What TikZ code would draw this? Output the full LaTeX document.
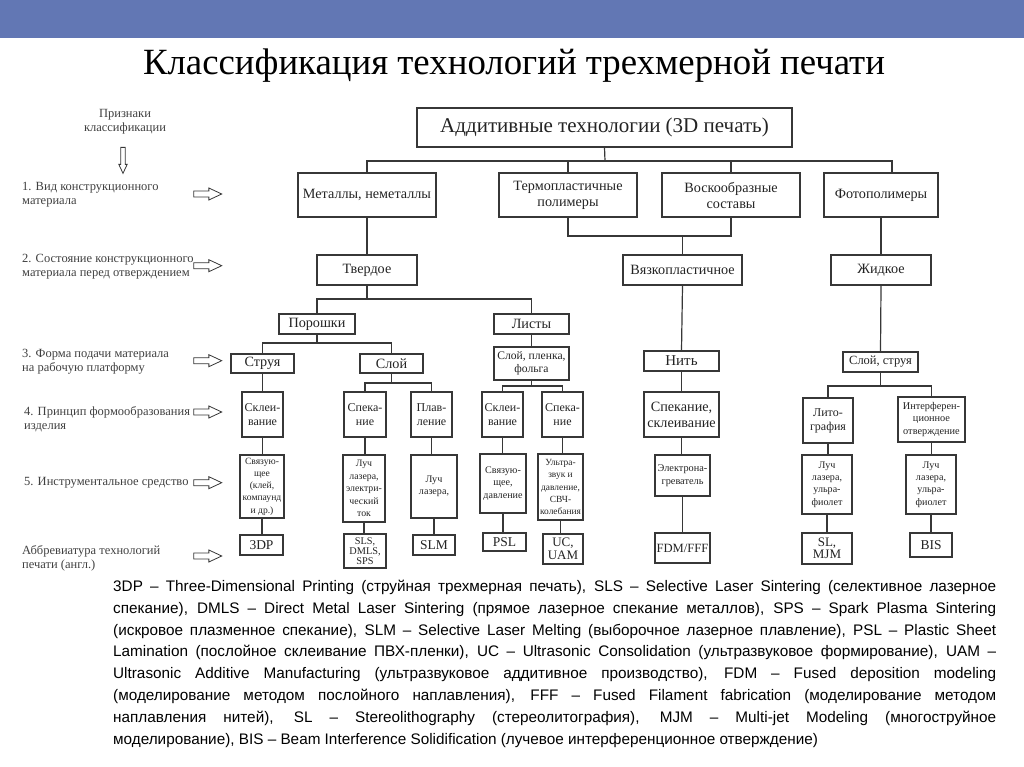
\documentclass[tikz,border=0pt]{standalone}
\usepackage{fontspec}
\usepackage{graphicx}
\setmainfont{Liberation Serif}
\newfontfamily\arialfont{Liberation Sans}
\usetikzlibrary{shapes.arrows}
\definecolor{barblue}{RGB}{98,119,180}
\definecolor{linegray}{RGB}{55,55,55}
\definecolor{textgray}{RGB}{35,35,35}
\newcommand\fsTitle{\fontsize{37}{40}\selectfont}
\newcommand\fsBig{\fontsize{21}{24}\selectfont}
\newcommand\fsMid{\fontsize{14.2}{16}\selectfont}
\newcommand\fsRow{\fontsize{12}{14}\selectfont}
\newcommand\fsSmall{\fontsize{10.1}{12.4}\selectfont}
\newcommand\fsAbbr{\fontsize{13.5}{13.5}\selectfont}
\newcommand\fsSide{\fontsize{12.5}{14}\selectfont}
\newcommand\fsNote{\fontsize{15.3}{21.8}\selectfont}
\begin{document}
\begin{tikzpicture}[x=1pt, y=-1pt, every node/.style={align=center, text=textgray},
  box/.style={draw=linegray, line width=1.2pt, inner sep=0pt, font=\fsMid},
  rowbox/.style={box, font=\fsRow},
  smallbox/.style={box, font=\fsSmall},
  abbrbox/.style={box, font=\fsAbbr},
  hollowarrow/.style={single arrow, draw=linegray, line width=0.8pt, fill=white, minimum height=28pt, inner xsep=0pt, inner ysep=2.6pt, single arrow head extend=3pt, single arrow tip angle=50},
  sidelabel/.style={anchor=west, align=left, inner sep=0pt, font=\fsSide, text=black!75}]
\useasboundingbox (0,0) rectangle (1024,767);
\fill[barblue] (0,0) rectangle (1024,38);
\node[anchor=base, text=black, font=\fsTitle] (title) at (514,75) {\resizebox{742pt}{\height}{Классификация технологий трехмерной печати}};

% criteria column
\node[font=\fsSide, text=black!75] (crit) at (125,122) {Признаки\\классификации};
\node[hollowarrow, minimum height=26pt, inner xsep=1.8pt, inner ysep=0pt, single arrow head extend=2pt, shape border rotate=270] (down) at (123,158) {};
\node[sidelabel] (c1) at (22,195) {1. Вид конструкционного\\материала};
\node[sidelabel] (c2) at (22,266.5) {2. Состояние конструкционного\\материала перед отверждением};
\node[sidelabel] (c3) at (22,361.5) {3. Форма подачи материала\\на рабочую платформу};
\node[sidelabel] (c4) at (24,419) {4. Принцип формообразования\\изделия};
\node[sidelabel] (c5) at (24,483) {5. Инструментальное средство};
\node[sidelabel] (c6) at (22,558.5) {Аббревиатура технологий\\печати (англ.)};
\foreach \i/\y in {1/194,2/265.7,3/360.7,4/412,5/482.7,6/556}
  \node[hollowarrow] (arr\i) at (204.5,\y) {};

% tree
\node[box, font=\fsBig, minimum width=375pt, minimum height=39pt] (top) at (604.5,127.5) {Аддитивные технологии (3D печать)};
\node[box, minimum width=138pt, minimum height=44pt] (met) at (367,195) {Металлы, неметаллы};
\node[box, minimum width=138pt, minimum height=44pt] (therm) at (568,195) {Термопластичные\\полимеры};
\node[box, minimum width=138pt, minimum height=44pt] (wax) at (731,195) {Воскообразные\\составы};
\node[box, minimum width=114pt, minimum height=44pt] (photo) at (881,195) {Фотополимеры};
\node[box, minimum width=100pt, minimum height=30pt] (solid) at (367,270) {Твердое};
\node[box, minimum width=119pt, minimum height=30pt] (visc) at (682.5,270) {Вязкопластичное};
\node[box, minimum width=100pt, minimum height=30pt] (liquid) at (881,270) {Жидкое};
\node[box, minimum width=76pt, minimum height=20pt] (powder) at (317,324) {Порошки};
\node[box, minimum width=75pt, minimum height=20pt] (sheets) at (531.5,324) {Листы};
\node[box, minimum width=63pt, minimum height=19pt] (jet) at (262.5,363.5) {Струя};
\node[box, minimum width=63pt, minimum height=19pt] (layer) at (391.5,363.5) {Слой};
\node[rowbox, font=\fontsize{11.6}{13.5}\selectfont, minimum width=75pt, minimum height=33pt] (foil) at (531.5,363.5) {Слой, пленка,\\фольга};
\node[box, font=\fontsize{15}{16}\selectfont, minimum width=75pt, minimum height=20pt] (thread) at (681.5,361) {Нить};
\node[rowbox, font=\fontsize{12.5}{14}\selectfont, minimum width=75pt, minimum height=20pt] (lj) at (880.5,362) {Слой, струя};
\node[rowbox, minimum width=41pt, minimum height=45pt] (glue1) at (262.5,414.5) {Склеи-\\вание};
\node[rowbox, minimum width=42pt, minimum height=45pt] (sint1) at (365,414.5) {Спека-\\ние};
\node[rowbox, minimum width=41pt, minimum height=45pt] (melt) at (431.5,414.5) {Плав-\\ление};
\node[rowbox, minimum width=41pt, minimum height=45pt] (glue2) at (502.5,414.5) {Склеи-\\вание};
\node[rowbox, minimum width=41pt, minimum height=45pt] (sint2) at (562.5,414.5) {Спека-\\ние};
\node[box, minimum width=75pt, minimum height=45pt] (sg) at (681.5,414.5) {Спекание,\\склеивание};
\node[rowbox, minimum width=50pt, minimum height=45pt] (litho) at (828,420.5) {Лито-\\графия};
\node[smallbox, font=\fontsize{10.3}{12.5}\selectfont, minimum width=67pt, minimum height=45pt] (interf) at (931.5,419.5) {Интерферен-\\ционное\\отверждение};
\node[smallbox, font=\fontsize{9.6}{12.2}\selectfont, minimum width=44pt, minimum height=63pt] (tool1) at (262,486.5) {Связую-\\щее\\(клей,\\компаунд\\и др.)};
\node[smallbox, font=\fontsize{9.8}{12.6}\selectfont, minimum width=42pt, minimum height=67pt] (tool2) at (364,488.5) {Луч\\лазера,\\электри-\\ческий\\ток};
\node[smallbox, minimum width=46pt, minimum height=63pt] (tool3) at (434,486.5) {Луч\\лазера,};
\node[smallbox, minimum width=46pt, minimum height=59pt] (tool4) at (503,483.5) {Связую-\\щее,\\давление};
\node[smallbox, font=\fontsize{9.4}{12.4}\selectfont, minimum width=45pt, minimum height=66pt] (tool5) at (560.5,487) {Ультра-\\звук и\\давление,\\СВЧ-\\колебания};
\node[smallbox, font=\fontsize{10.3}{13.5}\selectfont, minimum width=55pt, minimum height=41pt] (tool6) at (682.5,475.5) {Электрона-\\греватель};
\node[smallbox, minimum width=50pt, minimum height=59pt] (tool7) at (827,484.5) {Луч\\лазера,\\ульра-\\фиолет};
\node[smallbox, minimum width=50pt, minimum height=59pt] (tool8) at (931,484.5) {Луч\\лазера,\\ульра-\\фиолет};
\node[abbrbox, minimum width=43pt, minimum height=20pt] (a1) at (261.5,545) {3DP};
\node[abbrbox, font=\fontsize{10.3}{9.8}\selectfont, minimum width=42pt, minimum height=34pt] (a2) at (365,551) {SLS,\\DMLS,\\SPS};
\node[abbrbox, minimum width=42pt, minimum height=20pt] (a3) at (434,545) {SLM};
\node[abbrbox, minimum width=43pt, minimum height=18pt] (a4) at (504.5,542) {PSL};
\node[abbrbox, font=\fontsize{13}{12.5}\selectfont, minimum width=40pt, minimum height=30pt] (a5) at (563,549) {UC,\\UAM};
\node[abbrbox, font=\fontsize{12.6}{13.5}\selectfont, minimum width=55pt, minimum height=30pt] (a6) at (682.5,548) {FDM/FFF};
\node[abbrbox, font=\fontsize{13}{12.5}\selectfont, minimum width=50pt, minimum height=31pt] (a7) at (827,548.5) {SL,\\MJM};
\node[abbrbox, minimum width=42pt, minimum height=24pt] (a8) at (931,545) {BIS};

% connectors
\coordinate (b1) at (605,161);
\coordinate (b2) at (367,299);
\coordinate (b3) at (317,343);
\coordinate (b4) at (391.5,383);
\coordinate (b5) at (531.5,386);
\coordinate (b6) at (880.5,386);
\coordinate (tw) at (682.5,236);
\begin{scope}[draw=linegray, line width=1.2pt]
\draw (top.south) -- (b1);
\draw (met.north) |- ([xshift=11pt]photo.north |- b1) -- ([xshift=11pt]photo.north);
\draw (therm.north) -- (therm.north |- b1);
\draw (wax.north) -- (wax.north |- b1);
\draw (met.south) -- (solid.north);
\draw (therm.south) |- (tw) -| (wax.south);
\draw (tw) -- (visc.north);
\draw (photo.south) -- (liquid.north);
\draw (solid.south) -- (b2);
\draw (powder.north) |- (b2) -| (sheets.north);
\draw (powder.south) -- (b3);
\draw (jet.north) |- (b3) -| (layer.north);
\draw (sheets.south) -- (foil.north);
\draw (layer.south) -- (b4);
\draw (sint1.north) |- (b4) -| (melt.north);
\draw (foil.south) -- (b5);
\draw (glue2.north) |- (b5) -| (sint2.north);
\draw (visc.south) -- (thread.north);
\draw (liquid.south) -- (lj.north);
\draw (lj.south) -- (b6);
\draw (litho.north) |- (b6) -| (interf.north);
\foreach \a/\b in {jet/glue1, glue1/tool1, tool1/a1, sint1/tool2, tool2/a2, melt/tool3, tool3/a3,
    glue2/tool4, tool4/a4, sint2/tool5, tool5/a5, thread/sg, sg/tool6, tool6/a6,
    litho/tool7, tool7/a7, interf/tool8, tool8/a8}
  \draw (\a.south) -- (\a.south |- \b.north);
\end{scope}

% abbreviations
\node[anchor=north west, inner sep=0pt, text width=883pt, align=justify, font=\arialfont\fsNote, text=black] (note) at (113,580) {\hyphenpenalty=10000 \exhyphenpenalty=10000
3DP – Three-Dimensional Printing (струйная трехмерная печать), SLS – Selective Laser Sintering (селективное лазерное\linebreak
спекание), DMLS – Direct Metal Laser Sintering (прямое лазерное спекание металлов), SPS – Spark Plasma Sintering\linebreak
(искровое плазменное спекание), SLM – Selective Laser Melting (выборочное лазерное плавление), PSL – Plastic Sheet\linebreak
Lamination (послойное склеивание ПВХ-пленки), UC – Ultrasonic Consolidation (ультразвуковое формирование), UAM –\linebreak
Ultrasonic Additive Manufacturing (ультразвуковое аддитивное производство), FDM – Fused deposition modeling\linebreak
(моделирование методом послойного наплавления), FFF – Fused Filament fabrication (моделирование методом\linebreak
наплавления нитей), SL – Stereolithography (стереолитография), MJM – Multi-jet Modeling (многоструйное\linebreak
моделирование), BIS – Beam Interference Solidification (лучевое интерференционное отверждение)};
\end{tikzpicture}
\end{document}
